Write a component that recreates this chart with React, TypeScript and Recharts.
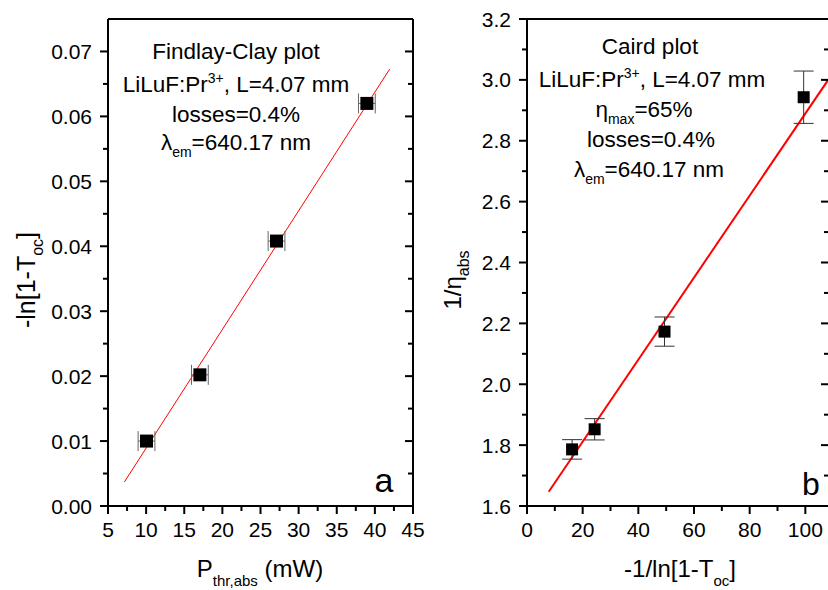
import { ScatterChart, Scatter, XAxis, YAxis, ErrorBar, ReferenceLine, Customized } from 'recharts'

// (a) Findlay-Clay plot
const powerA = [10.05, 17.05, 27.1, 38.95]
const lossA = [0.0100, 0.0202, 0.0408, 0.0620]
const powerErrA = [1.1, 1.1, 1.1, 1.1]
const fitAx = [7.15, 41.95]
const fitAy = [0.0037, 0.0673]
const xTicksA = [5, 7.5, 10, 12.5, 15, 17.5, 20, 22.5, 25, 27.5, 30, 32.5, 35, 37.5, 40, 42.5, 45]
const xMajorA = [5, 10, 15, 20, 25, 30, 35, 40, 45]
const yTicksA = [0, 0.005, 0.01, 0.015, 0.02, 0.025, 0.03, 0.035, 0.04, 0.045, 0.05, 0.055, 0.06, 0.065, 0.07]
const yMajorA = [0, 0.01, 0.02, 0.03, 0.04, 0.05, 0.06, 0.07]

// (b) Caird plot
const invLossB = [16.2, 24.3, 49.4, 99.4]
const invEtaB = [1.786, 1.852, 2.173, 2.943]
const invEtaErrB = [0.032, 0.035, 0.048, 0.086]
const fitBx = [7.8, 108.2]
const fitBy = [1.647, 3.0]
const xTicksB = [0, 10, 20, 30, 40, 50, 60, 70, 80, 90, 100]
const xMajorB = [0, 20, 40, 60, 80, 100]
const yTicksB = [1.6, 1.7, 1.8, 1.9, 2.0, 2.1, 2.2, 2.3, 2.4, 2.5, 2.6, 2.7, 2.8, 2.9, 3.0, 3.1, 3.2]
const yMajorB = [1.6, 1.8, 2.0, 2.2, 2.4, 2.6, 2.8, 3.0, 3.2]

const dataA = powerA.map((x, i) => ({ x, y: lossA[i], ex: powerErrA[i] }))
const dataB = invLossB.map((x, i) => ({ x, y: invEtaB[i], ey: invEtaErrB[i] }))

const FONT = '"Liberation Sans", Arial, sans-serif'
const axisStyle = { stroke: '#000', strokeWidth: 2 }

const square = (side: number) => (p: any) =>
  <rect x={p.cx - side / 2} y={p.cy - side / 2} width={side} height={side} fill="#000" />

function AxisTick({ x, y, payload, side, majors, digits, label }: any) {
  const v = payload.value
  const major = majors.some((m: number) => Math.abs(m - v) < 1e-9)
  const len = major ? 8 : 5
  let x2 = x, y2 = y
  if (side === 'bottom') y2 = y + len
  if (side === 'top') y2 = y + len
  if (side === 'left') x2 = x - len
  if (side === 'right') x2 = x - len
  return (
    <g>
      <line x1={x} y1={y} x2={x2} y2={y2} stroke="#000" strokeWidth={2} />
      {major && label && side === 'bottom' &&
        <text x={x} y={y + 31} textAnchor="middle" fontSize={21} fontFamily={FONT} fill="#000">{v.toFixed(digits)}</text>}
      {major && label && side === 'left' &&
        <text x={x - 16} y={y} dy="0.36em" textAnchor="end" fontSize={21} fontFamily={FONT} fill="#000">{v.toFixed(digits)}</text>}
    </g>
  )
}

function TextA() {
  return (
    <g fontFamily={FONT} fill="#000">
      <text x={236} y={59} textAnchor="middle" fontSize={22.5}>Findlay-Clay plot</text>
      <text x={236} y={92} textAnchor="middle" fontSize={22.5}>
        <tspan>LiLuF:Pr</tspan><tspan dy={-9} fontSize={14}>3+</tspan><tspan dy={9}>, L=4.07 mm</tspan>
      </text>
      <text x={236} y={122} textAnchor="middle" fontSize={22.5}>losses=0.4%</text>
      <text x={236} y={150} textAnchor="middle" fontSize={22.5}>
        <tspan>λ</tspan><tspan dy={7} fontSize={14}>em</tspan><tspan dy={-7}>=640.17 nm</tspan>
      </text>
      <text x={384} y={492} textAnchor="middle" fontSize={34}>a</text>
      <text x={260} y={577} textAnchor="middle" fontSize={24}>
        <tspan>P</tspan><tspan dy={9} fontSize={15}>thr,abs</tspan><tspan dy={-9}> (mW)</tspan>
      </text>
      <text x={35} y={280} textAnchor="middle" fontSize={25} transform="rotate(-90, 35, 280)">
        <tspan>-ln[1-T</tspan><tspan dy={8} fontSize={16}>oc</tspan><tspan dy={-8}>]</tspan>
      </text>
    </g>
  )
}

function TextB() {
  return (
    <g fontFamily={FONT} fill="#000">
      <text x={220} y={54} textAnchor="middle" fontSize={22.5}>Caird plot</text>
      <text x={222} y={87} textAnchor="middle" fontSize={22.5}>
        <tspan>LiLuF:Pr</tspan><tspan dy={-9} fontSize={14}>3+</tspan><tspan dy={9}>, L=4.07 mm</tspan>
      </text>
      <text x={214} y={117} textAnchor="middle" fontSize={22.5}>
        <tspan>η</tspan><tspan dy={7} fontSize={14}>max</tspan><tspan dy={-7}>=65%</tspan>
      </text>
      <text x={221} y={147} textAnchor="middle" fontSize={22.5}>losses=0.4%</text>
      <text x={219} y={177} textAnchor="middle" fontSize={22.5}>
        <tspan>λ</tspan><tspan dy={7} fontSize={14}>em</tspan><tspan dy={-7}>=640.17 nm</tspan>
      </text>
      <text x={381} y={495} textAnchor="middle" fontSize={32}>b</text>
      <text x={250} y={577} textAnchor="middle" fontSize={24}>
        <tspan>-1/ln[1-T</tspan><tspan dy={9} fontSize={15}>oc</tspan><tspan dy={-9}>]</tspan>
      </text>
      <text x={31} y={280} textAnchor="middle" fontSize={24} transform="rotate(-90, 31, 280)">
        <tspan>1/η</tspan><tspan dy={8} fontSize={16}>abs</tspan>
      </text>
    </g>
  )
}

export default function App() {
  return (
    <div style={{ position: 'relative', width: 828, height: 590, overflow: 'hidden', background: '#fff' }}>
      <style>{'body{margin:0}'}</style>
      <div style={{ position: 'absolute', left: 0, top: 0 }}>
        <ScatterChart width={430} height={590} margin={{ top: 19, right: 17, bottom: 0, left: 0 }}>
          <XAxis xAxisId="b" dataKey="x" type="number" domain={[5, 45]} allowDataOverflow ticks={xTicksA} interval={0}
            height={84} axisLine={axisStyle} tickLine={false} tickSize={0} tickMargin={0}
            tick={<AxisTick side="bottom" majors={xMajorA} digits={0} label />} />
          <XAxis xAxisId="t" orientation="top" mirror type="number" domain={[5, 45]} allowDataOverflow ticks={xTicksA} interval={0}
            axisLine={axisStyle} tickLine={false} tickSize={0} tickMargin={0}
            tick={<AxisTick side="top" majors={xMajorA} digits={0} />} />
          <YAxis yAxisId="l" dataKey="y" type="number" domain={[0, 0.075]} allowDataOverflow ticks={yTicksA} interval={0}
            width={108} axisLine={axisStyle} tickLine={false} tickSize={0} tickMargin={0}
            tick={<AxisTick side="left" majors={yMajorA} digits={2} label />} />
          <YAxis yAxisId="r" orientation="right" mirror type="number" domain={[0, 0.075]} allowDataOverflow ticks={yTicksA} interval={0}
            axisLine={axisStyle} tickLine={false} tickSize={0} tickMargin={0}
            tick={<AxisTick side="right" majors={yMajorA} digits={2} />} />
          <ReferenceLine xAxisId="b" yAxisId="l" segment={[{ x: fitAx[0], y: fitAy[0] }, { x: fitAx[1], y: fitAy[1] }]}
            stroke="#ff0000" strokeWidth={1} />
          <Scatter xAxisId="b" yAxisId="l" data={dataA} fill="#000" shape={square(13)} isAnimationActive={false}>
            <ErrorBar dataKey="ex" direction="x" width={10} stroke="#666" strokeWidth={1} isAnimationActive={false} />
          </Scatter>
          <Customized component={TextA} />
        </ScatterChart>
      </div>
      <div style={{ position: 'absolute', left: 430, top: 0 }}>
        <ScatterChart width={400} height={590} margin={{ top: 19, right: 1, bottom: 0, left: 0 }}>
          <XAxis xAxisId="b" dataKey="x" type="number" domain={[0, 108.5]} allowDataOverflow ticks={xTicksB} interval={0}
            height={84} axisLine={axisStyle} tickLine={false} tickSize={0} tickMargin={0}
            tick={<AxisTick side="bottom" majors={xMajorB} digits={0} label />} />
          <XAxis xAxisId="t" orientation="top" mirror type="number" domain={[0, 108.5]} allowDataOverflow ticks={xTicksB} interval={0}
            axisLine={axisStyle} tickLine={false} tickSize={0} tickMargin={0}
            tick={<AxisTick side="top" majors={xMajorB} digits={0} />} />
          <YAxis yAxisId="l" dataKey="y" type="number" domain={[1.6, 3.2]} allowDataOverflow ticks={yTicksB} interval={0}
            width={97} axisLine={axisStyle} tickLine={false} tickSize={0} tickMargin={0}
            tick={<AxisTick side="left" majors={yMajorB} digits={1} label />} />
          <YAxis yAxisId="r" orientation="right" mirror type="number" domain={[1.6, 3.2]} allowDataOverflow ticks={yTicksB} interval={0}
            axisLine={axisStyle} tickLine={false} tickSize={0} tickMargin={0}
            tick={<AxisTick side="right" majors={yMajorB} digits={1} />} />
          <ReferenceLine xAxisId="b" yAxisId="l" segment={[{ x: fitBx[0], y: fitBy[0] }, { x: fitBx[1], y: fitBy[1] }]}
            stroke="#ff0000" strokeWidth={2} />
          <Scatter xAxisId="b" yAxisId="l" data={dataB} fill="#000" shape={square(12)} isAnimationActive={false}>
            <ErrorBar dataKey="ey" direction="y" width={10} stroke="#333" strokeWidth={1} isAnimationActive={false} />
          </Scatter>
          <Customized component={TextB} />
        </ScatterChart>
      </div>
    </div>
  )
}
